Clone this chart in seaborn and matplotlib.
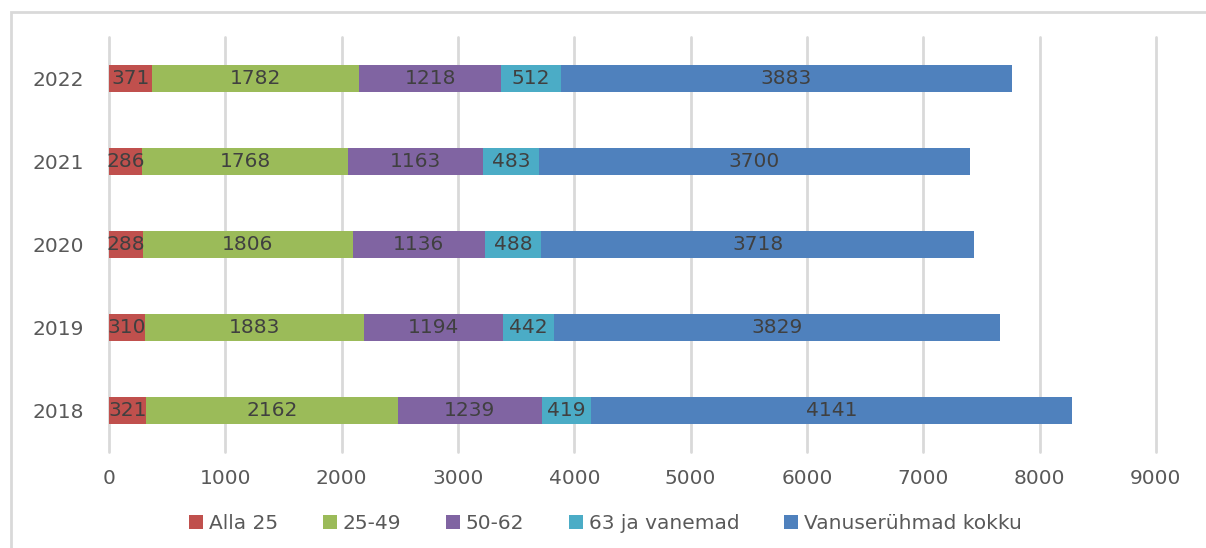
import numpy as np
import pandas as pd
import matplotlib
matplotlib.use("Agg")
import matplotlib.pyplot as plt
from matplotlib.patches import Patch, Rectangle
import seaborn as sns

# Data
years = ["2022", "2021", "2020", "2019", "2018"]
series = ["Alla 25", "25-49", "50-62", "63 ja vanemad", "Vanuserühmad kokku"]
alla_25 = [371, 286, 288, 310, 321]
v25_49 = [1782, 1768, 1806, 1883, 2162]
v50_62 = [1218, 1163, 1136, 1194, 1239]
v63_plus = [512, 483, 488, 442, 419]
kokku = [3883, 3700, 3718, 3829, 4141]
colors = ["#C0504D", "#9BBB59", "#8064A2", "#4BACC6", "#4F81BD"]

df = pd.DataFrame({"year": years, "Alla 25": alla_25, "25-49": v25_49,
                   "50-62": v50_62, "63 ja vanemad": v63_plus,
                   "Vanuserühmad kokku": kokku})
cum = df[series].cumsum(axis=1)
starts = cum - df[series]

sns.set_theme(style="white")
plt.rcParams["font.family"] = ["DejaVu Sans"]
text_col = "#595959"
fs = 14.5

fig = plt.figure(figsize=(12.06, 5.48), dpi=100)
ax = fig.add_axes([0.0904, 0.175, 0.868, 0.7575])

# stacked bars: draw cumulative totals from the back to the front
for s, c in reversed(list(zip(series, colors))):
    sns.barplot(x=cum[s], y=df["year"], order=years, orient="h", color=c,
                width=0.32, saturation=1, ax=ax, linewidth=0)

# value labels in the middle of each segment
for i in range(len(years)):
    for s in series:
        mid = starts.loc[i, s] + df.loc[i, s] / 2
        ax.text(mid, i, str(df.loc[i, s]), ha="center", va="center",
                fontsize=fs, color="#404040")

ax.set_xlim(0, 9000)
ax.set_ylim(4.5, -0.5)
ax.set_xticks(np.arange(0, 9001, 1000))
ax.xaxis.grid(True, color="#D9D9D9", linewidth=2)
for gl in ax.get_xgridlines():
    gl.set_clip_on(False)
ax.set_axisbelow(True)
for sp in ax.spines.values():
    sp.set_visible(False)
ax.set_xlabel("")
ax.set_ylabel("")
ax.tick_params(axis="both", length=0, labelsize=fs, labelcolor=text_col)
ax.tick_params(axis="x", pad=12)
ax.tick_params(axis="y", pad=18)

handles = [Patch(facecolor=c, edgecolor="none", label=s) for s, c in zip(series, colors)]
fig.legend(handles=handles, loc="center", bbox_to_anchor=(0.502, 0.045), ncol=5,
           frameon=False, fontsize=fs, labelcolor=text_col, handlelength=0.7,
           handleheight=0.7, handletextpad=0.3, columnspacing=2.2)

# light chart frame
fig.patches.append(Rectangle((0.009, -0.05), 1.1, 1.028, transform=fig.transFigure,
                             fill=False, edgecolor="#D9D9D9", linewidth=2))

fig.savefig("out.png", dpi=100)
